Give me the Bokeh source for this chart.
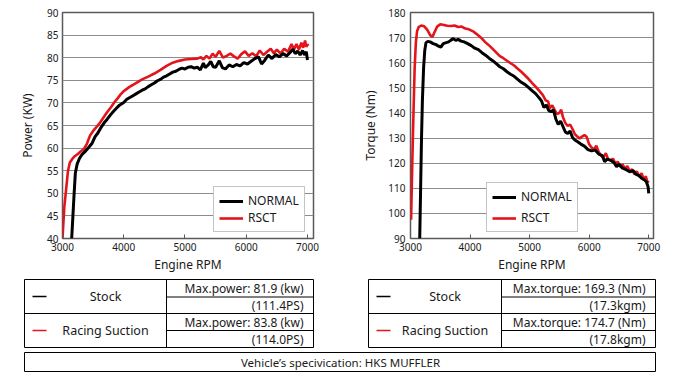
from bokeh.plotting import figure
from bokeh.layouts import column, row
from bokeh.models import Range1d, FixedTicker
from bokeh.embed import file_html
from bokeh.resources import INLINE
from bokeh.core.properties import value

# ---------------- data ----------------
rpm_power_rsct = [3000, 3030, 3060, 3090, 3120, 3160, 3200, 3250, 3300, 3350, 3400, 3450, 3500, 3550,
                  3600, 3650, 3700, 3750, 3800, 3850, 3900, 3950, 4000, 4100, 4200, 4300, 4400, 4500,
                  4600, 4700, 4800, 4900, 5000, 5100, 5200, 5260, 5300, 5350, 5400, 5450, 5500, 5560,
                  5620, 5680, 5740, 5800, 5860, 5920, 5980, 6040, 6100, 6160, 6220, 6280, 6340, 6400,
                  6450, 6500, 6560, 6620, 6680, 6740, 6780, 6820, 6860, 6900, 6930, 6960, 6980, 7000, 7010]
power_rsct = [40, 47, 51, 55, 56.8, 57.6, 58.2, 58.7, 59.3, 59.8, 61, 62.8, 63.8, 64.6,
              65.4, 66.4, 67.4, 68.3, 69.2, 70.2, 71, 71.9, 72.6, 73.6, 74.4, 75.2, 75.8, 76.5,
              77.3, 78.2, 78.9, 79.3, 79.6, 79.7, 79.8, 80.1, 79.6, 80.4, 79.8, 80.9, 80.2, 81.5,
              80.0, 80.4, 80.9, 80.3, 79.8, 80.8, 81.4, 80.4, 81.0, 80.3, 81.6, 80.6, 81.3, 82.0,
              81.0, 81.8, 80.9, 82.0, 81.3, 83.0, 81.8, 83.0, 81.8, 83.3, 82.2, 83.8, 82.4, 83.0, 82.6]

rpm_power_normal = [3150, 3170, 3190, 3210, 3240, 3280, 3320, 3380, 3430, 3480, 3530, 3580, 3630, 3680,
                    3730, 3780, 3830, 3880, 3930, 4000, 4050, 4100, 4150, 4200, 4250, 4300, 4350, 4400,
                    4450, 4500, 4550, 4600, 4650, 4700, 4750, 4800, 4850, 4900, 4950, 5000, 5050, 5100,
                    5150, 5200, 5250, 5300, 5330, 5380, 5420, 5460, 5500, 5560, 5610, 5660, 5720, 5780,
                    5840, 5900, 5960, 6020, 6080, 6140, 6200, 6250, 6300, 6360, 6420, 6480, 6540, 6600,
                    6660, 6720, 6760, 6800, 6840, 6880, 6920, 6950, 6980, 7000]
power_normal = [40, 45, 50, 54.5, 56.5, 57.8, 58.6, 59.4, 60.2, 61.0, 62.5, 63.4, 64.6, 65.6,
                66.4, 67.3, 68.1, 68.8, 69.5, 70.1, 70.8, 71.2, 71.6, 72.0, 72.4, 72.8, 73.1, 73.6,
                74.0, 74.4, 74.9, 75.2, 75.7, 76.0, 76.4, 76.8, 77.0, 77.4, 77.7, 77.5, 77.9, 78.0,
                77.7, 77.9, 77.3, 78.8, 77.8, 78.4, 79.2, 78.0, 77.9, 79.3, 77.8, 77.5, 78.4, 78.0,
                78.5, 78.2, 78.9, 78.6, 79.2, 79.8, 80.2, 78.6, 79.4, 80.6, 79.8, 80.7, 80.2, 80.9,
                80.4, 81.2, 81.9, 80.9, 81.5, 80.6, 81.6, 80.6, 81.3, 79.5]

rpm_torque_rsct = [3010, 3030, 3050, 3070, 3090, 3110, 3140, 3180, 3230, 3280, 3330, 3370, 3410, 3450,
                   3500, 3560, 3620, 3680, 3740, 3800, 3860, 3920, 3980, 4050, 4100, 4150, 4200, 4250,
                   4300, 4350, 4400, 4450, 4500, 4560, 4620, 4680, 4740, 4800, 4860, 4920, 4980, 5040,
                   5100, 5160, 5220, 5270, 5310, 5340, 5380, 5420, 5460, 5500, 5530, 5560, 5600, 5640,
                   5680, 5720, 5760, 5800, 5840, 5880, 5920, 5960, 6000, 6040, 6080, 6120, 6160, 6200,
                   6240, 6280, 6320, 6360, 6400, 6440, 6480, 6520, 6560, 6600, 6640, 6680, 6720, 6760,
                   6800, 6840, 6880, 6920, 6950, 6980, 7000]
torque_rsct = [97.5, 120, 140, 158, 168, 172.5, 174.3, 174.8, 174.5, 173.2, 171, 170.3, 172.5, 174.5,
               175.3, 175.0, 174.7, 174.6, 174.8, 174.2, 174.4, 173.6, 173.3, 172.5, 171.6, 170.6, 169.6, 168.3,
               167.3, 166.2, 165.0, 163.8, 162.6, 161.8, 160.8, 159.8, 158.9, 157.6, 156.4, 155.0, 153.6, 152.0,
               150.5, 148.9, 147.2, 145.0, 144.6, 141.9, 143.0, 141.2, 139.5, 140.0, 141.3, 138.3, 136.0, 134.8,
               135.4, 133.6, 131.5, 130.6, 129.8, 130.6, 131.2, 130.4, 127.5, 126.2, 125.5, 127.0, 124.5, 123.0,
               122.3, 124.0, 121.4, 121.0, 121.8, 119.8, 120.6, 118.6, 119.5, 117.8, 118.8, 116.8, 117.6, 115.6,
               116.8, 114.6, 116.0, 113.2, 114.8, 112.4, 113.0]

rpm_torque_normal = [3155, 3170, 3185, 3200, 3220, 3240, 3260, 3290, 3330, 3380, 3430, 3470, 3510, 3550,
                     3600, 3640, 3680, 3720, 3760, 3800, 3850, 3900, 3960, 4020, 4080, 4140, 4200, 4260,
                     4320, 4380, 4440, 4500, 4560, 4620, 4680, 4740, 4800, 4860, 4920, 4980, 5040, 5100,
                     5160, 5200, 5240, 5280, 5320, 5360, 5400, 5440, 5480, 5520, 5560, 5600, 5640, 5680,
                     5720, 5760, 5800, 5860, 5920, 5980, 6040, 6100, 6160, 6220, 6260, 6300, 6360, 6420,
                     6460, 6500, 6560, 6620, 6680, 6740, 6780, 6840, 6880, 6920, 6960, 6990, 7000]
torque_normal = [90, 110, 130, 145, 158, 165, 168, 168.5, 168.3, 167.6, 167.2, 166.6, 166.2, 167.6,
                 168.0, 168.3, 169.0, 169.6, 168.9, 169.3, 168.6, 168.3, 167.6, 166.8, 165.8, 165.2, 164.0, 163.0,
                 161.8, 160.8, 159.6, 158.4, 157.6, 156.4, 155.4, 154.6, 153.4, 152.2, 151.4, 150.2, 148.9, 147.7,
                 146.0, 144.8, 142.2, 143.2, 141.0, 140.5, 141.2, 137.6, 135.4, 136.8, 134.6, 132.4, 131.8, 132.8,
                 130.2, 129.2, 128.6, 127.6, 126.8, 125.4, 124.9, 125.2, 123.6, 123.0, 120.6, 121.6, 121.2, 120.2,
                 118.6, 119.6, 118.0, 117.4, 116.6, 117.0, 115.6, 115.0, 114.0, 113.5, 112.6, 110.5, 108.0]

x_ticks = [3000, 4000, 5000, 6000, 7000]
power_ticks = [40, 45, 50, 55, 60, 65, 70, 75, 80, 85, 90]
torque_ticks = [90, 100, 110, 120, 130, 140, 150, 160, 170, 180]

legend_labels = ["NORMAL", "RSCT"]
table_series = ["Stock", "Racing Suction"]
max_power_kw = ["81.9", "83.8"]
max_power_ps = ["111.4", "114.0"]
max_torque_nm = ["169.3", "174.7"]
max_torque_kgm = ["17.3", "17.8"]
vehicle_spec = "HKS MUFFLER"

# ---------------- style ----------------
FONT = "Noto Sans"
RED = "#e3151b"
BLACK = "#000000"
GRID = "#8c8c8c"
FRAME = "#5a5a5a"
TXT = "#1a1a1a"


def make_chart(series, width, y_range, yticks, ylabel, border_left, border_right, x_end,
               leg_loc, leg_spacing, tick_standoff, label_standoff):
    p = figure(width=width, height=277, output_backend="svg", toolbar_location=None,
               x_range=Range1d(3000, x_end), y_range=Range1d(*y_range),
               min_border_left=border_left, min_border_right=border_right,
               min_border_top=12, min_border_bottom=39)
    p.background_fill_color = "white"
    p.border_fill_color = "white"
    p.outline_line_color = FRAME
    p.outline_line_width = 1.5
    p.xgrid.grid_line_color = None
    p.ygrid.grid_line_color = GRID
    p.ygrid.grid_line_width = 1
    p.xaxis.ticker = FixedTicker(ticks=x_ticks)
    p.yaxis.ticker = FixedTicker(ticks=yticks)
    for ax in (p.xaxis[0], p.yaxis[0]):
        ax.axis_line_color = None
        ax.minor_tick_line_color = None
        ax.major_label_text_font = FONT
        ax.major_label_text_font_size = "10px"
        ax.major_label_text_color = TXT
        ax.axis_label_text_font = FONT
        ax.axis_label_text_font_size = "12px"
        ax.axis_label_text_font_style = "normal"
        ax.axis_label_text_color = TXT
    p.xaxis.major_tick_in = 4
    p.xaxis.major_tick_out = 0
    p.xaxis.major_tick_line_color = FRAME
    p.yaxis.major_tick_in = 0
    p.yaxis.major_tick_out = 0
    p.xaxis.major_label_standoff = 4
    p.xaxis.axis_label_standoff = 2
    p.yaxis.major_label_standoff = tick_standoff
    p.yaxis.axis_label_standoff = label_standoff
    p.xaxis.axis_label = "Engine RPM"
    p.yaxis.axis_label = ylabel

    (xn, yn), (xr, yr) = series
    p.line(xr, yr, line_color=RED, line_width=2.6, legend_label=legend_labels[1])
    p.line(xn, yn, line_color=BLACK, line_width=3, legend_label=legend_labels[0])
    items = p.legend[0].items
    p.legend[0].items = [items[1], items[0]]
    lg = p.legend[0]
    lg.location = leg_loc
    lg.label_text_font = FONT
    lg.label_text_font_size = "12px"
    lg.label_text_color = TXT
    lg.glyph_width = 24
    lg.glyph_height = 12
    lg.label_height = 12
    lg.label_standoff = 5
    lg.padding = 5
    lg.spacing = leg_spacing
    lg.margin = 0
    lg.border_line_color = "#8a8a8a"
    lg.border_line_width = 1
    lg.background_fill_alpha = 1
    return p


p1 = make_chart([(rpm_power_normal, power_normal), (rpm_power_rsct, power_rsct)], 340,
                (40, 90), power_ticks, "Power (KW)", 62, 27, 7098, (151, 6), 0, 4, 8)
p2 = make_chart([(rpm_torque_normal, torque_normal), (rpm_torque_rsct, torque_rsct)], 332,
                (90, 180), torque_ticks, "Torque (Nm)", 70, 19, 7080, (76, 6), 4, 5, 6)

# ---------------- tables ----------------
p3 = figure(width=672, height=95, output_backend="svg", toolbar_location=None,
            x_range=Range1d(0, 672), y_range=Range1d(372, 277),
            min_border=0, min_border_left=0, min_border_right=0, min_border_top=0, min_border_bottom=0)
p3.axis.visible = False
p3.grid.visible = False
p3.outline_line_color = None
p3.background_fill_color = "white"
p3.border_fill_color = "white"

TOP, MID, BOT = 279, 313, 347
SUB = [296.5, 330]


def draw_table(x0, xdiv, x1, big_vals, small_vals, big_fmt, small_fmt):
    p3.quad(left=[x0], right=[x1], top=[TOP], bottom=[BOT], fill_color=None,
            line_color=BLACK, line_width=1)
    p3.segment(x0=[x0, xdiv, xdiv], y0=[MID, TOP, SUB[0]], x1=[x1, xdiv, x1], y1=[MID, BOT, SUB[0]],
               line_color=BLACK, line_width=1)
    p3.segment(x0=[xdiv], y0=[SUB[1]], x1=[x1], y1=[SUB[1]], line_color=BLACK, line_width=1)
    rows_c = [(TOP + MID) / 2, (MID + BOT) / 2]
    p3.segment(x0=[x0 + 8, x0 + 8], y0=rows_c, x1=[x0 + 22, x0 + 22], y1=rows_c,
               line_color=[BLACK, RED], line_width=1.6)
    cx = (x0 + xdiv) / 2 + 10
    p3.text(x=[cx, cx], y=rows_c, text=table_series, text_font=value(FONT),
            text_font_size="12.5px", text_align="center", text_baseline="middle", text_color=TXT)
    rx = x1 - 10
    p3.text(x=[rx] * 4, y=[(TOP + SUB[0]) / 2, (SUB[0] + MID) / 2, (MID + SUB[1]) / 2, (SUB[1] + BOT) / 2],
            text=[big_fmt.format(big_vals[0]), small_fmt.format(small_vals[0]),
                  big_fmt.format(big_vals[1]), small_fmt.format(small_vals[1])],
            text_font=value(FONT), text_font_size="12px", text_align="right",
            text_baseline="middle", text_color=TXT)


draw_table(24, 166, 313, max_power_kw, max_power_ps, "Max.power: {} (kw)", "({}PS)")
draw_table(368, 501, 655, max_torque_nm, max_torque_kgm, "Max.torque: {} (Nm)", "({}kgm)")

p3.quad(left=[24], right=[655], top=[352], bottom=[371], fill_color=None, line_color=BLACK, line_width=1)
p3.text(x=[340], y=[361.5], text=["Vehicle\u2019s specivication: " + vehicle_spec], text_font=value(FONT),
        text_font_size="11.5px", text_align="center", text_baseline="middle", text_color=TXT)

layout = column(row(p1, p2, spacing=0), p3, spacing=0)
open("out.html", "w").write(file_html(layout, INLINE))
